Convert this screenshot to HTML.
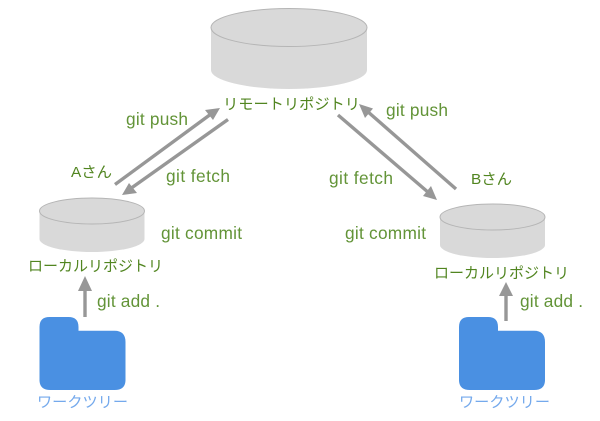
<!DOCTYPE html>
<html><head><meta charset="utf-8"><style>
html,body{margin:0;padding:0;background:#fff}
svg{display:block}
text{font-family:"Liberation Sans","Noto Sans CJK JP",sans-serif;font-size:15px;fill:#518520}
.l{font-size:17.300px;fill:#639438}
.b{fill:#74a9ec}
</style></head><body>
<svg width="600" height="421" viewBox="0 0 600 421" xmlns="http://www.w3.org/2000/svg">
<defs><g id="f"><path d="M10 0H29Q39 0 39 10V13.700H75Q86 13.700 86 25V63Q86 73 75 73H11Q0 73 0 63V10Q0 0 10 0Z" fill="#4a90e2"/></g></defs>
<g fill="#d9d9d9">
<path d="M211 27.500V70A78 19 0 0 0 367 70V27.500Z"/>
<path d="M39.500 211V239A52.500 13 0 0 0 144.500 239V211Z"/>
<path d="M440 217V245A52.500 13 0 0 0 545 245V217Z"/>
</g>
<g fill="#d9d9d9" stroke="#b5b5b5" stroke-width="1">
<ellipse cx="289" cy="27.500" rx="78" ry="19"/>
<ellipse cx="92" cy="211" rx="52.500" ry="13"/>
<ellipse cx="492.500" cy="217" rx="52.500" ry="13"/>
</g>
<use href="#f" x="39.500" y="317"/>
<use href="#f" x="459" y="317"/>
<g stroke="#979797" stroke-width="3.400" fill="none">
<path d="M115 184.500L211 114"/>
<path d="M228 119.500L130 189"/>
<path d="M456 189L367 111"/>
<path d="M338 115L429 193"/>
<path d="M85 317V286"/>
<path d="M506 321V291"/>
</g>
<g fill="#979797">
<path d="M220 108L213 120L205 110Z"/>
<path d="M122 195L129 183L137 193Z"/>
<path d="M359 104L373 108.500L365 118Z"/>
<path d="M437 200L423 196L431 186Z"/>
<path d="M85 276L92 291H78Z"/>
<path d="M506 282L513 296H499Z"/>
</g>
<text x="223" y="109" textLength="137" lengthAdjust="spacingAndGlyphs">リモートリポジトリ</text>
<text class="l" x="126" y="125" textLength="62" lengthAdjust="spacing">git push</text>
<text class="l" x="386" y="116" textLength="62" lengthAdjust="spacing">git push</text>
<text class="l" x="166" y="182" textLength="64" lengthAdjust="spacing">git fetch</text>
<text class="l" x="329" y="184" textLength="64" lengthAdjust="spacing">git fetch</text>
<text x="71" y="177" textLength="41" lengthAdjust="spacingAndGlyphs">Aさん</text>
<text x="471" y="184" textLength="41" lengthAdjust="spacingAndGlyphs">Bさん</text>
<text class="l" x="161" y="239" textLength="81" lengthAdjust="spacing">git commit</text>
<text class="l" x="345" y="239" textLength="81" lengthAdjust="spacing">git commit</text>
<text x="28" y="271" textLength="135" lengthAdjust="spacingAndGlyphs">ローカルリポジトリ</text>
<text x="434" y="278" textLength="135" lengthAdjust="spacingAndGlyphs">ローカルリポジトリ</text>
<text class="l" x="97" y="307" textLength="63" lengthAdjust="spacing">git add .</text>
<text class="l" x="520" y="307" textLength="63" lengthAdjust="spacing">git add .</text>
<text class="b" x="37" y="407" textLength="91" lengthAdjust="spacingAndGlyphs">ワークツリー</text>
<text class="b" x="459" y="407" textLength="91" lengthAdjust="spacingAndGlyphs">ワークツリー</text>
</svg>
</body></html>
